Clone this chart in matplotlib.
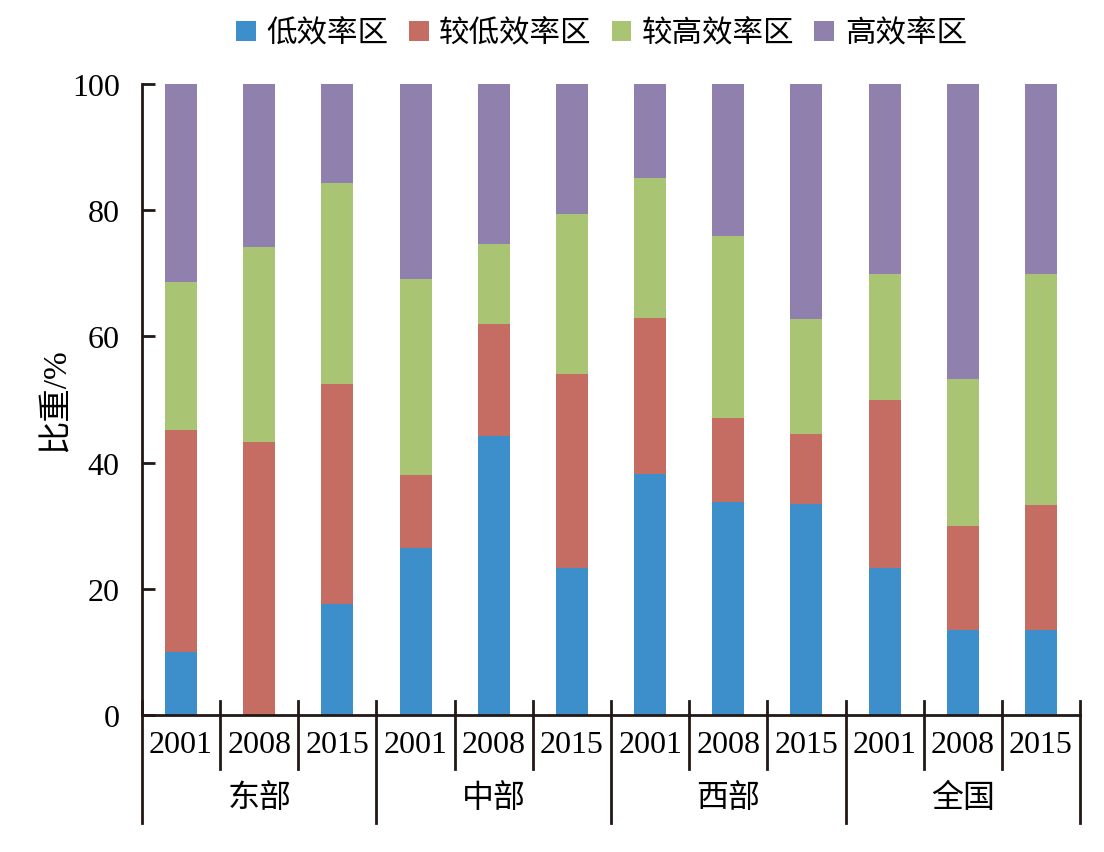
import matplotlib.pyplot as plt
import numpy as np

plt.rcParams['font.family'] = ['Liberation Serif', 'Noto Sans CJK SC']

groups = ['东部', '中部', '西部', '全国']
years = ['2001', '2008', '2015']
series_names = ['低效率区', '较低效率区', '较高效率区', '高效率区']

# cumulative boundaries
low = [10.0, 0.0, 17.6, 26.5, 44.2, 23.3, 38.2, 33.8, 33.4, 23.3, 13.5, 13.5]
low_mid = [45.2, 43.3, 52.5, 38.0, 62.0, 54.0, 62.9, 47.1, 44.5, 49.9, 30.0, 33.3]
high_mid = [68.6, 74.2, 84.3, 69.1, 74.6, 79.4, 85.1, 75.9, 62.8, 69.9, 53.2, 69.9]

colors = ['#3D8FCB', '#C56D63', '#A9C472', '#8F80AE']

low = np.array(low)
low_mid = np.array(low_mid)
high_mid = np.array(high_mid)
vals = [low, low_mid - low, high_mid - low_mid, 100 - high_mid]

fig = plt.figure(figsize=(11.04, 8.53), dpi=100)
ax = fig.add_axes([0.1286, 0.1606, 0.8497, 0.7398])

x = np.arange(12)
bottom = np.zeros(12)
for v, c, name in zip(vals, colors, series_names):
    ax.bar(x, v, 0.41, bottom=bottom, color=c, label=name, zorder=2)
    bottom = bottom + v

ax.set_xlim(-0.5, 11.5)
ax.set_ylim(0, 100)
ax.set_yticks([0, 20, 40, 60, 80, 100])
ax.tick_params(axis='y', direction='in', length=9, width=2, labelsize=23, pad=16, color='#231815')
ax.set_xticks([])
for s in ['top', 'right']:
    ax.spines[s].set_visible(False)
for s in ['left', 'bottom']:
    ax.spines[s].set_linewidth(2)
    ax.spines[s].set_color('#231815')
ax.set_ylabel('比重/%', fontsize=24, labelpad=0)

# two-level category axis
tr = ax.get_xaxis_transform()
for i in range(13):
    xs = i - 0.5
    y_end = -0.171 if i % 3 == 0 else -0.0856
    ax.plot([xs, xs], [0.0222, y_end], color='#231815', lw=2,
            transform=tr, clip_on=False)
for i in range(12):
    ax.text(i, -0.046, years[i % 3], transform=tr, ha='center', va='center',
            fontsize=23)
for g, name in enumerate(groups):
    ax.text(g * 3 + 1, -0.132, name, transform=tr, ha='center', va='center',
            fontsize=23)

ax.legend(loc='upper center', bbox_to_anchor=(0.49, 1.145), ncol=4, frameon=False,
          fontsize=22, handlelength=0.65, handleheight=0.65, handletextpad=0.35,
          columnspacing=0.65)

fig.savefig('out.png', dpi=100)
